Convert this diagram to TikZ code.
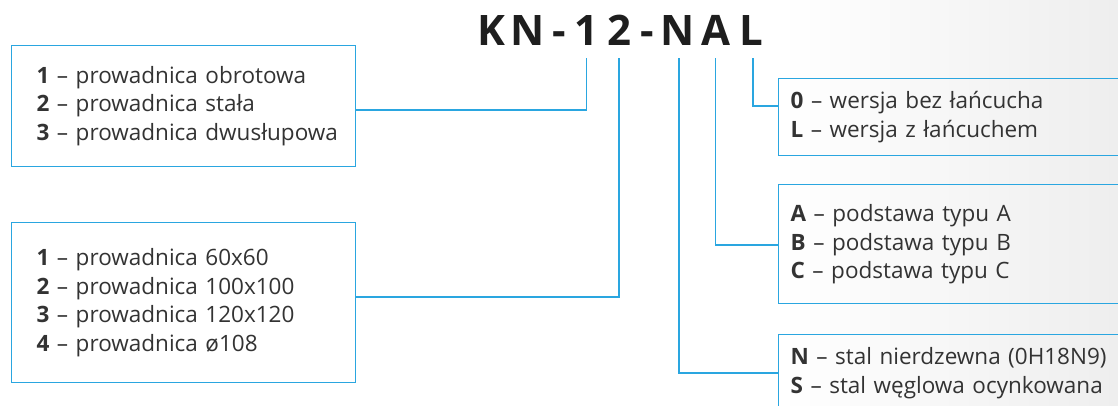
\documentclass[tikz,border=0pt]{standalone}
\usepackage{fontspec}
\setmainfont{Open Sans}
\definecolor{lineblue}{HTML}{2AA6E0}
\definecolor{txt}{HTML}{333333}
\definecolor{titlec}{HTML}{1E1E1E}
\definecolor{bgg}{HTML}{EEEEEE}
\begin{document}
\begin{tikzpicture}[x=1pt,y=-1pt,
  conn/.style={draw=lineblue, line width=1.3pt},
  box/.style={draw=lineblue, line width=1.3pt, anchor=north west, align=left,
    inner ysep=0pt, font=\fontsize{22.5}{28.5}\selectfont, text=txt},
  letter/.style={font=\fontsize{42}{42}\selectfont\bfseries, text=titlec,
    inner sep=0pt, anchor=base}]
\useasboundingbox (0,0) rectangle (1118,405);
\fill[white] (0,0) rectangle (1118,405);
\shade[left color=white, right color=bgg] (780,0) rectangle (1118,405);

% title letters
\node[letter] (k)  at (491.5,45) {K};
\node[letter] (n1) at (527.5,45) {N};
\node[letter] (h1) at (559,45)   {-};
\node[letter] (d1) at (586.5,45) {1};
\node[letter] (d2) at (619,45)   {2};
\node[letter] (h2) at (647.5,45) {-};
\node[letter] (n2) at (678,45)   {N};
\node[letter] (a)  at (715.5,45) {A};
\node[letter] (l)  at (751,45)   {L};

% left boxes
\node[box, fill=white, inner xsep=25pt, text width=294pt, minimum height=121pt] (b1) at (11,45)
  {\mbox{\textbf{1} – prowadnica obrotowa}\\\mbox{\textbf{2} – prowadnica stała}\\\mbox{\textbf{3} – prowadnica dwusłupowa}};
\node[box, fill=white, inner xsep=25pt, text width=294pt, minimum height=160pt] (b2) at (11,222)
  {\mbox{\textbf{1} – prowadnica 60x60}\\\mbox{\textbf{2} – prowadnica 100x100}\\\mbox{\textbf{3} – prowadnica 120x120}\\\mbox{\textbf{4} – prowadnica ø108}};

% right boxes
\node[box, inner xsep=12pt, text width=340pt, minimum height=77pt] (r1) at (778,78)
  {\mbox{\textbf{0} – wersja bez łańcucha}\\\mbox{\textbf{L} – wersja z łańcuchem}};
\node[box, inner xsep=12pt, text width=340pt, minimum height=119pt] (r2) at (778,184)
  {\mbox{\textbf{A} – podstawa typu A}\\\mbox{\textbf{B} – podstawa typu B}\\\mbox{\textbf{C} – podstawa typu C}};
\node[box, inner xsep=12pt, text width=340pt, minimum height=77pt] (r3) at (778,334)
  {\mbox{\textbf{N} – stal nierdzewna (0H18N9)}\\\mbox{\textbf{S} – stal węglowa ocynkowana}};

% connectors
\draw[conn] (d1.south |- 0,58) |- (b1.east |- 0,110);
\draw[conn] (d2.south |- 0,58) |- (b2.east |- 0,297);
\draw[conn] ([xshift=1pt]n2.south |- 0,58) |- (r3.west |- 0,373);
\draw[conn] (a.south |- 0,58) |- (r2.west |- 0,245);
\draw[conn] ([xshift=2pt]l.south |- 0,58) |- (r1.west |- 0,106);
\end{tikzpicture}
\end{document}
